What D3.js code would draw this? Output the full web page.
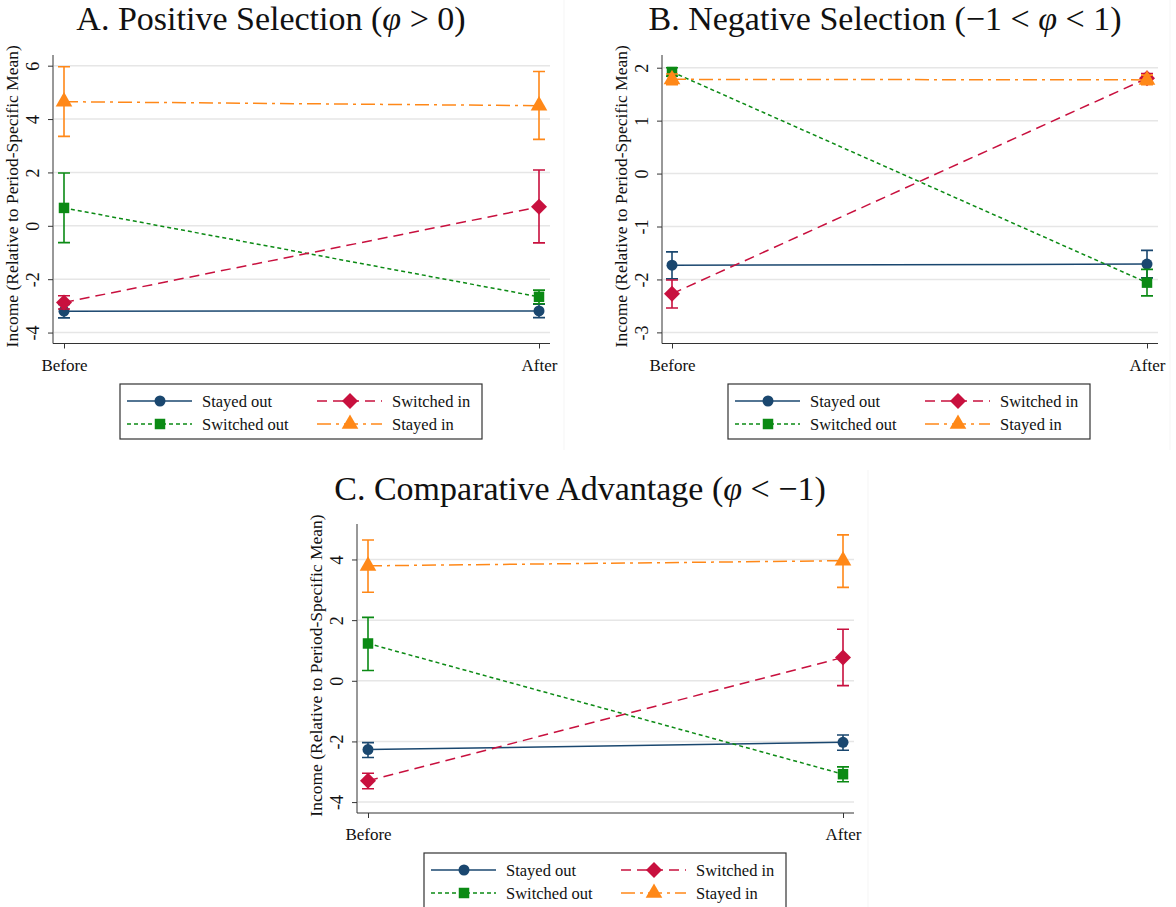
<!DOCTYPE html>
<html>
<head>
<meta charset="utf-8">
<script src="https://cdn.jsdelivr.net/npm/d3@7"></script>
<style>
  html, body { margin: 0; padding: 0; background: #ffffff; }
  svg { display: block; }
  text { font-family: "Liberation Serif", "Times New Roman", serif; fill: #111; }
</style>
</head>
<body>
<svg id="chart" width="1176" height="907"></svg>
<script>
// ---- data ----
const periods = ["Before", "After"];
const seriesNames = ["Stayed out", "Switched out", "Switched in", "Stayed in"];

// Panel A: positive selection
const panelA_mean = [[-3.20, -3.19], [0.67, -2.66], [-2.87, 0.71], [4.65, 4.50]];
const panelA_lo   = [[-3.45, -3.44], [-0.63, -2.92], [-3.12, -0.64], [3.35, 3.24]];
const panelA_hi   = [[-2.95, -2.94], [1.98, -2.41], [-2.62, 2.09], [5.96, 5.78]];
const panelA_ticks = [-4, -2, 0, 2, 4, 6];

// Panel B: negative selection
const panelB_mean = [[-1.73, -1.71], [1.92, -2.06], [-2.27, 1.80], [1.78, 1.77]];
const panelB_lo   = [[-1.99, -1.97], [1.84, -2.31], [-2.54, 1.71], [1.68, 1.68]];
const panelB_hi   = [[-1.48, -1.45], [2.00, -1.81], [-2.01, 1.89], [1.88, 1.86]];
const panelB_ticks = [-3, -2, -1, 0, 1, 2];

// Panel C: comparative advantage
const panelC_mean = [[-2.27, -2.03], [1.23, -3.08], [-3.30, 0.77], [3.79, 3.96]];
const panelC_lo   = [[-2.53, -2.29], [0.34, -3.33], [-3.56, -0.16], [2.92, 3.08]];
const panelC_hi   = [[-2.04, -1.79], [2.09, -2.84], [-3.05, 1.70], [4.64, 4.81]];
const panelC_ticks = [-4, -2, 0, 2, 4];

// ---- styles ----
const colors = ["#1a476f", "#0b8a14", "#c8103e", "#ff8818"];
const dashes = [null, "4,3", "10,6", "14,5,3,5"];
const shapes = [d3.symbolCircle, d3.symbolSquare, "diamond", d3.symbolTriangle];
const shapeSizes = [95, 110, 0, 120];
const yTitle = "Income (Relative to Period-Specific Mean)";

const svg = d3.select("#chart");

function marker(g, i, x, y) {
  if (shapes[i] === "diamond") {
    const s = 8;
    g.append("path")
      .attr("d", `M${x},${y - s}L${x + s},${y}L${x},${y + s}L${x - s},${y}Z`)
      .attr("fill", colors[i]);
  } else {
    g.append("path")
      .attr("d", d3.symbol().type(shapes[i]).size(shapeSizes[i])())
      .attr("transform", `translate(${x},${y})`)
      .attr("fill", colors[i]);
  }
}

function drawPanel(cfg) {
  const g = svg.append("g");
  const y = d3.scaleLinear().domain(cfg.domain).range([cfg.bottom, cfg.top]);
  const x = d3.scalePoint().domain(periods).range([cfg.xBefore, cfg.xAfter]);

  // gridlines
  g.append("g").selectAll("line").data(cfg.ticks).join("line")
    .attr("x1", cfg.left + 1).attr("x2", cfg.right)
    .attr("y1", d => y(d)).attr("y2", d => y(d))
    .attr("stroke", "#e6e6e6").attr("stroke-width", 1.5);

  // y axis
  const yAxis = d3.axisLeft(y).tickValues(cfg.ticks).tickSize(5).tickFormat(d => String(d));
  const ya = g.append("g").attr("transform", `translate(${cfg.left},0)`).call(yAxis);
  ya.select(".domain").attr("stroke", "#333").attr("d", `M0,${cfg.top}V${cfg.bottom}`);
  ya.selectAll(".tick line").attr("stroke", "#333");
  ya.selectAll(".tick text")
    .attr("font-family", "Liberation Serif").attr("font-size", 18).attr("fill", "#111")
    .attr("x", null).attr("dy", null)
    .attr("text-anchor", "middle")
    .attr("transform", "translate(-14,0) rotate(-90)");

  // x axis
  const xAxis = d3.axisBottom(x).tickSize(5);
  const xa = g.append("g").attr("transform", `translate(0,${cfg.bottom})`).call(xAxis);
  xa.select(".domain").attr("stroke", "#333").attr("d", `M${cfg.left},0H${cfg.right}`);
  xa.selectAll(".tick line").attr("stroke", "#333");
  xa.selectAll(".tick text")
    .attr("font-family", "Liberation Serif").attr("font-size", 17).attr("fill", "#111")
    .attr("y", 15).attr("dy", "0.71em");

  // y title
  g.append("text")
    .attr("transform", `translate(${cfg.left - 35},${(cfg.top + cfg.bottom) / 2 - 3}) rotate(-90)`)
    .attr("text-anchor", "middle").attr("font-size", 17.5).text(yTitle);

  // panel title
  const t = g.append("text").attr("x", cfg.titleX).attr("y", cfg.titleY)
    .attr("text-anchor", "middle").attr("font-size", 34)
    .attr("font-family", "Liberation Serif, serif");
  cfg.title.forEach(part => {
    const s = t.append("tspan").text(part.t);
    if (part.i) s.attr("font-style", "italic");
  });

  // series: lines, error bars, markers
  const line = d3.line().x((d, j) => x(periods[j])).y(d => y(d));
  seriesNames.forEach((name, i) => {
    const sg = g.append("g");
    sg.append("path").datum(cfg.mean[i]).attr("d", line)
      .attr("fill", "none").attr("stroke", colors[i]).attr("stroke-width", 1.5)
      .attr("stroke-dasharray", dashes[i]);
    periods.forEach((p, j) => {
      const cx = x(p), lo = y(cfg.lo[i][j]), hi = y(cfg.hi[i][j]);
      sg.append("path")
        .attr("d", `M${cx},${lo}V${hi}M${cx - 6},${lo}H${cx + 6}M${cx - 6},${hi}H${cx + 6}`)
        .attr("stroke", colors[i]).attr("stroke-width", 1.6).attr("fill", "none");
      marker(sg, i, cx, y(cfg.mean[i][j]));
    });
  });

  // legend
  const lg = g.append("g").attr("transform", `translate(${cfg.legendX},${cfg.legendY})`);
  lg.append("rect").attr("x", 0).attr("y", 0).attr("width", 362).attr("height", 55)
    .attr("fill", "#fff").attr("stroke", "#333").attr("stroke-width", 1.2);
  seriesNames.forEach((name, i) => {
    const col = (i === 0 || i === 1) ? 0 : 1;
    const row = (i === 0 || i === 2) ? 0 : 1;
    const x0 = 7 + col * 190, yy = 17 + row * 23;
    lg.append("line").attr("x1", x0).attr("x2", x0 + 65).attr("y1", yy).attr("y2", yy)
      .attr("stroke", colors[i]).attr("stroke-width", 1.5).attr("stroke-dasharray", dashes[i]);
    marker(lg, i, x0 + 33, yy);
    lg.append("text").attr("x", x0 + 75).attr("y", yy).attr("dy", "0.35em")
      .attr("font-size", 16.5).text(name);
  });

  // faint panel edge
  if (cfg.edgeX) {
    g.append("line").attr("x1", cfg.edgeX).attr("x2", cfg.edgeX)
      .attr("y1", cfg.edgeY0).attr("y2", cfg.edgeY1)
      .attr("stroke", "#f5f5f5").attr("stroke-width", 1);
  }
}

drawPanel({
  mean: panelA_mean, lo: panelA_lo, hi: panelA_hi, ticks: panelA_ticks,
  domain: [-4.41, 6.4], top: 55, bottom: 343.5, left: 53, right: 550,
  xBefore: 64, xAfter: 539,
  title: [{t: "A. Positive Selection ("}, {t: "φ", i: true}, {t: " > 0)"}],
  titleX: 271, titleY: 30, legendX: 120, legendY: 384,
  edgeX: 564, edgeY0: 0, edgeY1: 450
});

drawPanel({
  mean: panelB_mean, lo: panelB_lo, hi: panelB_hi, ticks: panelB_ticks,
  domain: [-3.21, 2.24], top: 55, bottom: 343.5, left: 662, right: 1158,
  xBefore: 672, xAfter: 1147,
  title: [{t: "B. Negative Selection (−1 < "}, {t: "φ", i: true}, {t: " < 1)"}],
  titleX: 885, titleY: 30, legendX: 728, legendY: 384,
  edgeX: 1170, edgeY0: 0, edgeY1: 450
});

drawPanel({
  mean: panelC_mean, lo: panelC_lo, hi: panelC_hi, ticks: panelC_ticks,
  domain: [-4.36, 5.17], top: 524, bottom: 813, left: 357, right: 854,
  xBefore: 368, xAfter: 843,
  title: [{t: "C. Comparative Advantage ("}, {t: "φ", i: true}, {t: " < −1)"}],
  titleX: 580, titleY: 500, legendX: 424, legendY: 853,
  edgeX: 868, edgeY0: 470, edgeY1: 907
});
</script>
</body>
</html>
